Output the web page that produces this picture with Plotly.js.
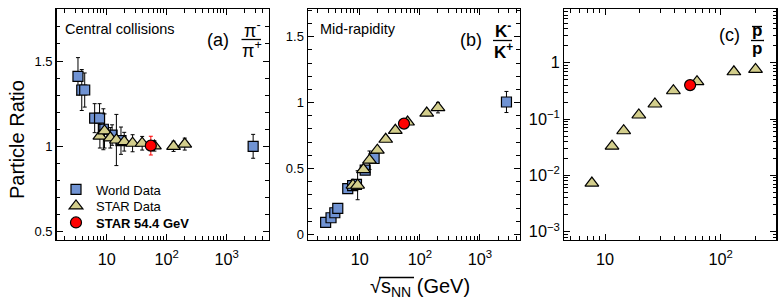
<!DOCTYPE html>
<html>
<head>
<meta charset="utf-8">
<script src="https://cdn.plot.ly/plotly-3.0.1.min.js"></script>
<style>html,body{margin:0;padding:0;background:#fff;}</style>
</head>
<body>
<div id="chart" style="width:783px;height:306px;"></div>
<script>
// ---------- data ----------
// (a) pi-/pi+
const worldEnergyA = [3.32, 3.84, 4.3, 6.3, 7.6, 8.8, 12.3, 17.3, 2760];
const worldRatioA  = [1.41, 1.33, 1.33, 1.165, 1.165, 1.10, 1.066, 1.033, 1.0];
const worldErrA    = [0.11, 0.12, 0.10, 0.085, 0.085, 0.12, 0.06, 0.08, 0.07];
const starEnergyA  = [7.7, 9.2, 11.5, 14.5, 19.6, 27, 39, 62.4, 130, 200];
const starRatioA   = [1.06, 1.09, 1.05, 1.037, 1.027, 1.018, 1.018, 1.002, 1.0, 1.013];
const starErrA     = [0.07, 0.10, 0.06, 0.15, 0.055, 0.05, 0.04, 0.03, 0.03, 0.035];
const newEnergy    = [54.4];
const newRatioA    = [1.004];
const newErrA      = [0.055];

// (b) K-/K+
const worldEnergyB = [2.7, 3.32, 3.84, 4.3, 6.3, 7.6, 8.8, 12.3, 17.3, 2760];
const worldRatioB  = [0.091, 0.126, 0.164, 0.197, 0.348, 0.37, 0.379, 0.487, 0.576, 1.005];
const worldErrB    = [0, 0, 0, 0, 0, 0, 0, 0, 0, 0.08];
const starEnergyB  = [7.7, 9.2, 11.5, 14.5, 19.6, 27, 39, 62.4, 130, 200];
const starRatioB   = [0.373, 0.373, 0.492, 0.563, 0.639, 0.722, 0.79, 0.853, 0.921, 0.962];
const starErrB     = [0.01, 0.11, 0.02, 0.07, 0.01, 0.01, 0.01, 0.01, 0.02, 0.04];
const newRatioB    = [0.841];

// (c) pbar/p
const starEnergyC  = [7.7, 11.5, 14.5, 19.6, 27, 39, 62.4, 130, 200];
const starRatioC   = [0.0073, 0.033, 0.062, 0.118, 0.185, 0.318, 0.46, 0.69, 0.76];
const newRatioC    = [0.40];

const legendNames = ['World Data', 'STAR Data', '<b>STAR 54.4 GeV</b>'];

// ---------- styles ----------
const W = 783, H = 306;
const px = x => x / W, py = y => 1 - y / H;
const blue = '#7093d3', khaki = '#d3ce8c', red = '#ff0000';
const sqMarker = {symbol:'square', size:10, color:blue, line:{color:'black', width:1.2}};
const triMarker = {symbol:'triangle-up', size:12, color:khaki, line:{color:'black', width:1.2}};
const dotMarker = {symbol:'circle', size:11, color:red, line:{color:'black', width:1.2}};
const err = (arr, c) => ({type:'data', array:arr, visible:true, color:c||'black', thickness:1, width:2});

function tr(x, y, e, marker, name, ax, leg, ecol) {
  const t = {x:x, y:y, type:'scatter', mode:'markers', marker:marker, name:name,
             xaxis:'x'+ax, yaxis:'y'+ax, showlegend:!!leg, cliponaxis:false};
  if (leg) t.legend = leg;
  if (e) t.error_y = err(e, ecol);
  return t;
}

const data = [
  tr(worldEnergyA, worldRatioA, worldErrA, sqMarker, legendNames[0], '', 'legend'),
  tr(starEnergyA, starRatioA, starErrA, triMarker, legendNames[1], '', 'legend2'),
  tr(newEnergy, newRatioA, newErrA, dotMarker, legendNames[2], '', 'legend3', red),
  tr(worldEnergyB, worldRatioB, worldErrB, sqMarker, legendNames[0], '2', null),
  tr(starEnergyB, starRatioB, starErrB, triMarker, legendNames[1], '2', null),
  tr(newEnergy, newRatioB, null, dotMarker, legendNames[2], '2', null),
  tr(starEnergyC, starRatioC, null, triMarker, legendNames[1], '3', null),
  tr(newEnergy, newRatioC, null, dotMarker, legendNames[2], '3', null)
];

const base = {
  showline:true, linewidth:1.5, linecolor:'black', mirror:'allticks',
  ticks:'inside', ticklen:6, tickwidth:1, tickcolor:'black',
  showgrid:false, zeroline:false, automargin:false,
  exponentformat:'power', tickfont:{size:13, color:'black'},
};
const minorLin = {ticks:'inside', ticklen:3.5, tickwidth:1, tickcolor:'black', showgrid:false, dtick:0.1};
const minorLog = {ticks:'inside', ticklen:3.5, tickwidth:1, tickcolor:'black', showgrid:false, dtick:'D1'};
const yDom = [py(239.5), py(9)];

const xlog = (dom, rng, anchor) => Object.assign({}, base, {
  type:'log', domain:dom, range:rng, dtick:1, anchor:anchor, minor:minorLog, ticklabelstandoff:5
});

const leg = yTop => ({x:px(56), y:py(yTop), xanchor:'left', yanchor:'top', bgcolor:'rgba(0,0,0,0)',
                      font:{size:13}, borderwidth:0});

const ann = (text, x, y, size, extra) => Object.assign({
  text:text, x:px(x), y:py(y), xref:'paper', yref:'paper', showarrow:false,
  xanchor:'center', yanchor:'middle', font:{size:size}
}, extra || {});

const line = (x0, x1, y, w) => ({type:'line', xref:'paper', yref:'paper',
  x0:px(x0), x1:px(x1), y0:py(y), y1:py(y), line:{color:'black', width:w || 1.3}});

const layout = {
  width:W, height:H, margin:{l:0, r:0, t:0, b:0},
  paper_bgcolor:'white', plot_bgcolor:'white',
  font:{family:'"Liberation Sans", Arial, sans-serif', size:13, color:'black'},
  showlegend:true,
  legend:leg(174.5), legend2:leg(191), legend3:leg(207.5),
  xaxis:xlog([px(56.7), px(268.7)], [0.1667, 3.70], 'y'),
  yaxis:Object.assign({}, base, {domain:yDom, range:[0.4537, 1.805], tick0:0, dtick:0.5, anchor:'x', minor:minorLin}),
  xaxis2:xlog([px(308), px(519.5)], [0.138, 3.658], 'y2'),
  yaxis2:Object.assign({}, base, {domain:yDom, range:[-0.039, 1.711], tick0:0, dtick:0.5, anchor:'x2', minor:minorLin}),
  xaxis3:xlog([px(564), px(776)], [0.6456, 2.478], 'y3'),
  yaxis3:Object.assign({}, base, {type:'log', domain:yDom, range:[-3.138, 0.953], dtick:1, anchor:'x3', minor:minorLog}),
  annotations:[
    ann('Particle Ratio', 17, 140, 20, {textangle:-90}),
    ann('√s<sub>NN</sub> (GeV)', 419.5, 287, 20),
    ann('Central collisions', 63, 29, 14.5, {xanchor:'left'}),
    ann('Mid-rapidity', 318, 29, 14.5, {xanchor:'left'}),
    ann('(a)', 218, 40, 18),
    ann('π<sup>-</sup>', 252, 29, 18),
    ann('π<sup>+</sup>', 252, 50, 18),
    ann('(b)', 471, 40, 18),
    ann('<b>K<sup>-</sup></b>', 503, 30, 17),
    ann('<b>K<sup>+</sup></b>', 503, 51, 17),
    ann('(c)', 729, 35, 18),
    ann('<b>p</b>', 757, 31, 17),
    ann('<b>p</b>', 757, 48, 17)
  ],
  shapes:[
    line(241.5, 261, 39.5),
    line(493, 512, 40.5),
    line(751, 764, 40.5),
    line(752, 762, 26.5),
    line(379, 414, 277.5, 1.4)
  ]
};

Plotly.newPlot('chart', data, layout, {staticPlot:true, displayModeBar:false});
</script>
</body>
</html>
